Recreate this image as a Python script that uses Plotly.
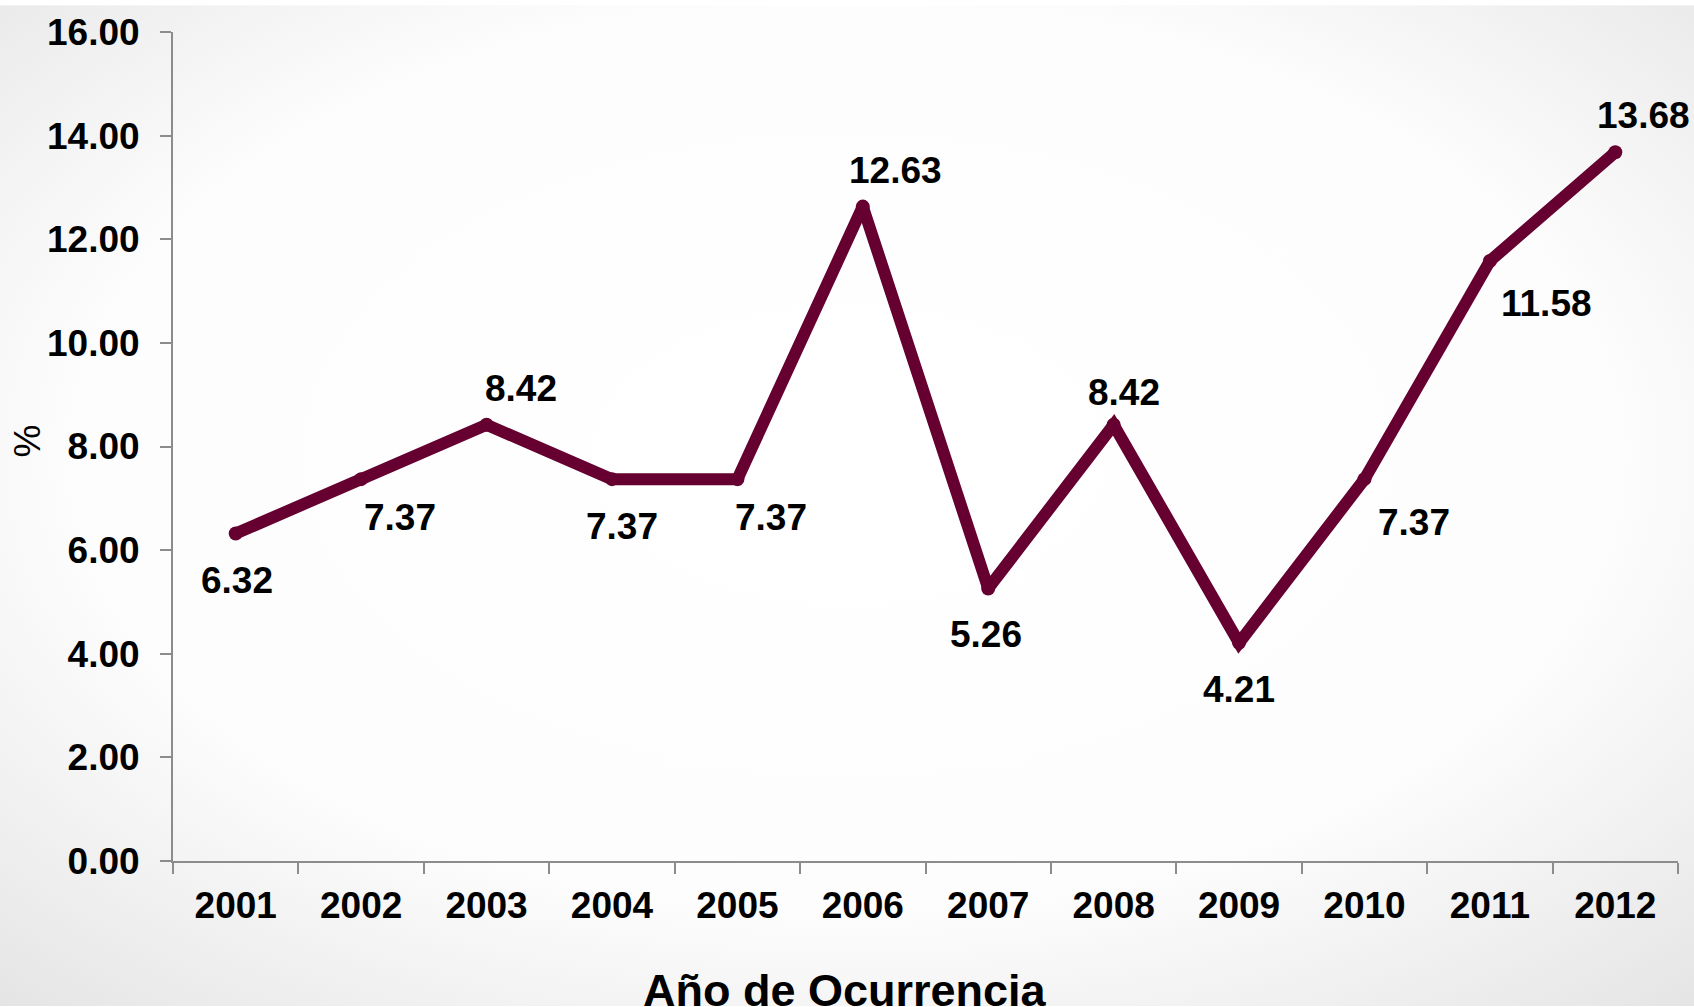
import base64
import plotly.graph_objects as go

# ---- data ----
years = ["2001", "2002", "2003", "2004", "2005", "2006",
         "2007", "2008", "2009", "2010", "2011", "2012"]
values = [6.32, 7.37, 8.42, 7.37, 7.37, 12.63, 5.26, 8.42, 4.21, 7.37, 11.58, 13.68]
y_ticks = [0, 2, 4, 6, 8, 10, 12, 14, 16]
x_title = "Año de Ocurrencia"
y_title = "%"

# ---- style ----
W, H = 1694, 1007
L, R, T, B = 173, 16, 27, 146
LINE = "#650030"
FONT = "Liberation Sans, Arial, sans-serif"
# label offsets in pixels (dx right, dy down)
label_offsets = [(1, 47), (39, 38), (34, -36), (10, 47), (34, 38), (33, -36),
                 (-2, 46), (10, -32), (0, 47), (50, 43), (57, 42), (28, -37)]

pw, ph = W - L - R, H - T - B

fig = go.Figure()
fig.add_trace(go.Scatter(
    x=years, y=values, mode="lines+markers",
    line=dict(color=LINE, width=12),
    marker=dict(color=LINE, size=14),
    hoverinfo="skip", showlegend=False,
))

annotations = []
for i, (v, (dx, dy)) in enumerate(zip(values, label_offsets)):
    annotations.append(dict(
        x=i, y=v, xref="x", yref="y", text=f"{v:.2f}", showarrow=False,
        xshift=dx, yshift=-dy, xanchor="center", yanchor="middle",
        font=dict(family=FONT, size=37, color="black", weight="bold"),
    ))
annotations.append(dict(
    x=(845 - L) / pw, y=(H - B - 991) / ph, xref="paper", yref="paper",
    text=x_title, showarrow=False, xanchor="center", yanchor="middle",
    font=dict(family=FONT, size=45, color="black", weight="bold"),
))
annotations.append(dict(
    x=(28 - L) / pw, y=(H - B - 439) / ph, xref="paper", yref="paper",
    text=y_title, showarrow=False, xanchor="center", yanchor="middle",
    textangle=-90, font=dict(family=FONT, size=37, color="black"),
))

svg = f'''<svg xmlns="http://www.w3.org/2000/svg" width="{W}" height="{H}">
<defs><radialGradient id="g" cx="50%" cy="45%" r="75%">
<stop offset="0" stop-color="#ffffff"/>
<stop offset="0.6" stop-color="#fdfdfd"/>
<stop offset="1" stop-color="#e4e4e4"/>
</radialGradient></defs>
<rect width="{W}" height="{H}" fill="url(#g)"/></svg>'''
src = "data:image/svg+xml;base64," + base64.b64encode(svg.encode()).decode()

fig.update_layout(
    width=W, height=H,
    margin=dict(l=L, r=R, t=T, b=B),
    paper_bgcolor="white", plot_bgcolor="rgba(0,0,0,0)",
    annotations=annotations,
    images=[dict(source=src, xref="paper", yref="paper",
                 x=-L / pw, y=(H - B) / ph, sizex=W / pw, sizey=H / ph,
                 xanchor="left", yanchor="top", sizing="stretch", layer="below")],
    xaxis=dict(
        type="category", range=[-0.5, len(years) - 0.5],
        showgrid=False, zeroline=False,
        showline=True, linecolor="#8c8c8c", linewidth=2,
        ticks="outside", tickson="boundaries", ticklen=11, tickwidth=2, tickcolor="#8c8c8c",
        tickfont=dict(family=FONT, size=37, color="black", weight="bold"),
        ticklabelstandoff=11,
    ),
    yaxis=dict(
        range=[0, 16], tickvals=y_ticks, tickformat=".2f",
        showgrid=False, zeroline=False,
        showline=True, linecolor="#8c8c8c", linewidth=2,
        ticks="outside", ticklen=11, tickwidth=2, tickcolor="#8c8c8c",
        tickfont=dict(family=FONT, size=37, color="black", weight="bold"),
        ticklabelstandoff=13,
    ),
)

fig.write_html("out.html", config={"displayModeBar": False},
               post_script="document.body.style.margin='0';document.body.style.overflow='hidden';")
